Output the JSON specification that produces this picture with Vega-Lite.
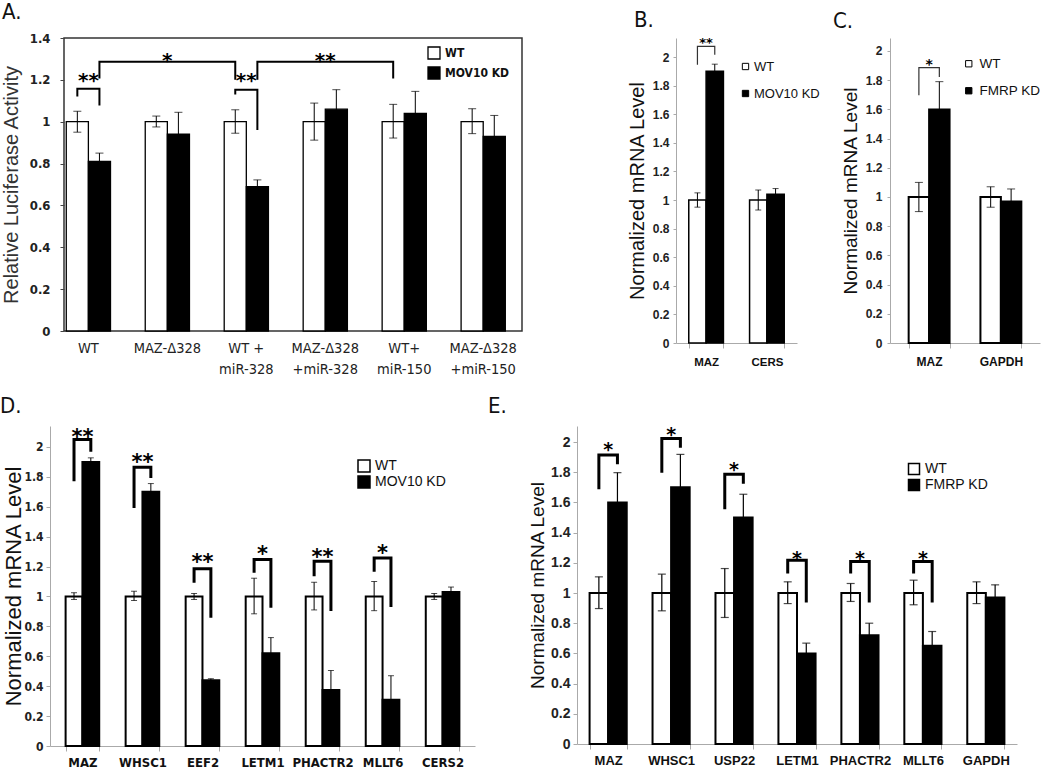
{
"$schema": "https://vega.github.io/schema/vega-lite/v6.json",
"padding": {"left": 0, "top": 0, "right": 0, "bottom": 0},
"background": "white",
"config": {"view": {"stroke": null}, "font": "Liberation Sans", "axis": {"grid": false, "labelAngle": 0, "labelOverlap": false}, "title": {"fontWeight": "normal", "fontSize": 22, "anchor": "start", "frame": "group", "color": "#111", "font": "Liberation Sans Narrow, DejaVu Sans Condensed, Liberation Sans"}},
"datasets": {
"spacer": [],
"a": [
{"category":"WT","group":"WT","value":1.0,"lo":0.95,"hi":1.05},
{"category":"WT","group":"MOV10 KD","value":0.81,"lo":0.77,"hi":0.85},
{"category":"MAZ-Δ328","group":"WT","value":1.0,"lo":0.975,"hi":1.027},
{"category":"MAZ-Δ328","group":"MOV10 KD","value":0.94,"lo":0.835,"hi":1.045},
{"category":"WT +|miR-328","group":"WT","value":1.0,"lo":0.945,"hi":1.057},
{"category":"WT +|miR-328","group":"MOV10 KD","value":0.69,"lo":0.66,"hi":0.722},
{"category":"MAZ-Δ328|+miR-328","group":"WT","value":1.0,"lo":0.912,"hi":1.089},
{"category":"MAZ-Δ328|+miR-328","group":"MOV10 KD","value":1.06,"lo":0.967,"hi":1.153},
{"category":"WT+|miR-150","group":"WT","value":1.0,"lo":0.922,"hi":1.083},
{"category":"WT+|miR-150","group":"MOV10 KD","value":1.04,"lo":0.935,"hi":1.145},
{"category":"MAZ-Δ328|+miR-150","group":"WT","value":1.0,"lo":0.943,"hi":1.062},
{"category":"MAZ-Δ328|+miR-150","group":"MOV10 KD","value":0.93,"lo":0.83,"hi":1.03}
],
"a_br": [
{"id":1,"ord":1,"category":"WT","group":"WT","y":1.121},
{"id":1,"ord":2,"category":"WT","group":"WT","y":1.158},
{"id":1,"ord":3,"category":"WT","group":"MOV10 KD","y":1.158},
{"id":1,"ord":4,"category":"WT","group":"MOV10 KD","y":1.077},
{"id":2,"ord":1,"category":"WT","group":"MOV10 KD","y":1.206},
{"id":2,"ord":2,"category":"WT","group":"MOV10 KD","y":1.287},
{"id":2,"ord":3,"category":"WT +|miR-328","group":"WT","y":1.287},
{"id":2,"ord":4,"category":"WT +|miR-328","group":"WT","y":1.2},
{"id":3,"ord":1,"category":"WT +|miR-328","group":"WT","y":1.13},
{"id":3,"ord":2,"category":"WT +|miR-328","group":"WT","y":1.153},
{"id":3,"ord":3,"category":"WT +|miR-328","group":"MOV10 KD","y":1.153},
{"id":3,"ord":4,"category":"WT +|miR-328","group":"MOV10 KD","y":0.96},
{"id":4,"ord":1,"category":"WT +|miR-328","group":"MOV10 KD","y":1.2},
{"id":4,"ord":2,"category":"WT +|miR-328","group":"MOV10 KD","y":1.287},
{"id":4,"ord":3,"category":"WT+|miR-150","group":"WT","y":1.287},
{"id":4,"ord":4,"category":"WT+|miR-150","group":"WT","y":1.206}
],
"a_st": [
{"category":"WT","y":1.225,"label":"**"},
{"category":"MAZ-Δ328","y":1.32,"label":"*"},
{"category":"WT +|miR-328","y":1.225,"label":"**"},
{"category":"MAZ-Δ328|+miR-328","y":1.32,"label":"**"}
],
"b": [
{"category":"MAZ","group":"WT","value":1.0,"lo":0.95,"hi":1.05},
{"category":"MAZ","group":"MOV10 KD","value":1.9,"lo":1.85,"hi":1.95},
{"category":"CERS","group":"WT","value":1.0,"lo":0.93,"hi":1.07},
{"category":"CERS","group":"MOV10 KD","value":1.04,"lo":1.0,"hi":1.08}
],
"b_br": [
{"id":1,"ord":1,"category":"MAZ","group":"WT","y":1.946},
{"id":1,"ord":2,"category":"MAZ","group":"WT","y":2.075},
{"id":1,"ord":3,"category":"MAZ","group":"MOV10 KD","y":2.075},
{"id":1,"ord":4,"category":"MAZ","group":"MOV10 KD","y":2.016}
],
"b_st": [{"category":"MAZ","y":2.125,"label":"**"}],
"c": [
{"category":"MAZ","group":"WT","value":1.0,"lo":0.9,"hi":1.1},
{"category":"MAZ","group":"FMRP KD","value":1.6,"lo":1.41,"hi":1.79},
{"category":"GAPDH","group":"WT","value":1.0,"lo":0.93,"hi":1.07},
{"category":"GAPDH","group":"FMRP KD","value":0.97,"lo":0.885,"hi":1.055}
],
"c_br": [
{"id":1,"ord":1,"category":"MAZ","group":"WT","y":1.697},
{"id":1,"ord":2,"category":"MAZ","group":"WT","y":1.886},
{"id":1,"ord":3,"category":"MAZ","group":"FMRP KD","y":1.886},
{"id":1,"ord":4,"category":"MAZ","group":"FMRP KD","y":1.822}
],
"c_st": [{"category":"MAZ","y":1.93,"label":"*"}],
"d": [
{"category":"MAZ","group":"WT","value":1.0,"lo":0.98,"hi":1.025},
{"category":"MAZ","group":"MOV10 KD","value":1.9,"lo":1.875,"hi":1.927},
{"category":"WHSC1","group":"WT","value":1.0,"lo":0.973,"hi":1.035},
{"category":"WHSC1","group":"MOV10 KD","value":1.7,"lo":1.645,"hi":1.755},
{"category":"EEF2","group":"WT","value":1.0,"lo":0.98,"hi":1.02},
{"category":"EEF2","group":"MOV10 KD","value":0.44,"lo":0.43,"hi":0.45},
{"category":"LETM1","group":"WT","value":1.0,"lo":0.884,"hi":1.122},
{"category":"LETM1","group":"MOV10 KD","value":0.62,"lo":0.515,"hi":0.725},
{"category":"PHACTR2","group":"WT","value":1.0,"lo":0.91,"hi":1.095},
{"category":"PHACTR2","group":"MOV10 KD","value":0.375,"lo":0.25,"hi":0.505},
{"category":"MLLT6","group":"WT","value":1.0,"lo":0.905,"hi":1.1},
{"category":"MLLT6","group":"MOV10 KD","value":0.31,"lo":0.15,"hi":0.47},
{"category":"CERS2","group":"WT","value":1.0,"lo":0.98,"hi":1.02},
{"category":"CERS2","group":"MOV10 KD","value":1.03,"lo":1.0,"hi":1.063}
],
"d_br": [
{"id":1,"ord":1,"category":"MAZ","group":"WT","y":1.77},
{"id":1,"ord":2,"category":"MAZ","group":"WT","y":2.049},
{"id":1,"ord":3,"category":"MAZ","group":"MOV10 KD","y":2.049},
{"id":1,"ord":4,"category":"MAZ","group":"MOV10 KD","y":1.967},
{"id":2,"ord":1,"category":"WHSC1","group":"WT","y":1.592},
{"id":2,"ord":2,"category":"WHSC1","group":"WT","y":1.864},
{"id":2,"ord":3,"category":"WHSC1","group":"MOV10 KD","y":1.864},
{"id":2,"ord":4,"category":"WHSC1","group":"MOV10 KD","y":1.793},
{"id":3,"ord":1,"category":"EEF2","group":"WT","y":1.091},
{"id":3,"ord":2,"category":"EEF2","group":"WT","y":1.185},
{"id":3,"ord":3,"category":"EEF2","group":"MOV10 KD","y":1.185},
{"id":3,"ord":4,"category":"EEF2","group":"MOV10 KD","y":0.857},
{"id":4,"ord":1,"category":"LETM1","group":"WT","y":1.158},
{"id":4,"ord":2,"category":"LETM1","group":"WT","y":1.247},
{"id":4,"ord":3,"category":"LETM1","group":"MOV10 KD","y":1.247},
{"id":4,"ord":4,"category":"LETM1","group":"MOV10 KD","y":0.924},
{"id":5,"ord":1,"category":"PHACTR2","group":"WT","y":1.136},
{"id":5,"ord":2,"category":"PHACTR2","group":"WT","y":1.236},
{"id":5,"ord":3,"category":"PHACTR2","group":"MOV10 KD","y":1.236},
{"id":5,"ord":4,"category":"PHACTR2","group":"MOV10 KD","y":0.902},
{"id":6,"ord":1,"category":"MLLT6","group":"WT","y":1.165},
{"id":6,"ord":2,"category":"MLLT6","group":"WT","y":1.258},
{"id":6,"ord":3,"category":"MLLT6","group":"MOV10 KD","y":1.258},
{"id":6,"ord":4,"category":"MLLT6","group":"MOV10 KD","y":0.929}
],
"d_st": [
{"category":"MAZ","y":2.105,"label":"**"},
{"category":"WHSC1","y":1.938,"label":"**"},
{"category":"EEF2","y":1.27,"label":"**"},
{"category":"LETM1","y":1.325,"label":"*"},
{"category":"PHACTR2","y":1.303,"label":"**"},
{"category":"MLLT6","y":1.332,"label":"*"}
],
"e": [
{"category":"MAZ","group":"WT","value":1.0,"lo":0.897,"hi":1.107},
{"category":"MAZ","group":"FMRP KD","value":1.6,"lo":1.4,"hi":1.797},
{"category":"WHSC1","group":"WT","value":1.0,"lo":0.882,"hi":1.125},
{"category":"WHSC1","group":"FMRP KD","value":1.7,"lo":1.49,"hi":1.918},
{"category":"USP22","group":"WT","value":1.0,"lo":0.838,"hi":1.162},
{"category":"USP22","group":"FMRP KD","value":1.5,"lo":1.345,"hi":1.654},
{"category":"LETM1","group":"WT","value":1.0,"lo":0.93,"hi":1.074},
{"category":"LETM1","group":"FMRP KD","value":0.6,"lo":0.53,"hi":0.668},
{"category":"PHACTR2","group":"WT","value":1.0,"lo":0.944,"hi":1.063},
{"category":"PHACTR2","group":"FMRP KD","value":0.72,"lo":0.64,"hi":0.8},
{"category":"MLLT6","group":"WT","value":1.0,"lo":0.922,"hi":1.085},
{"category":"MLLT6","group":"FMRP KD","value":0.65,"lo":0.55,"hi":0.745},
{"category":"GAPDH","group":"WT","value":1.0,"lo":0.93,"hi":1.074},
{"category":"GAPDH","group":"FMRP KD","value":0.97,"lo":0.89,"hi":1.054}
],
"e_br": [
{"id":1,"ord":1,"category":"MAZ","group":"WT","y":1.687},
{"id":1,"ord":2,"category":"MAZ","group":"WT","y":1.914},
{"id":1,"ord":3,"category":"MAZ","group":"FMRP KD","y":1.914},
{"id":1,"ord":4,"category":"MAZ","group":"FMRP KD","y":1.852},
{"id":2,"ord":1,"category":"WHSC1","group":"WT","y":1.797},
{"id":2,"ord":2,"category":"WHSC1","group":"WT","y":2.024},
{"id":2,"ord":3,"category":"WHSC1","group":"FMRP KD","y":2.024},
{"id":2,"ord":4,"category":"WHSC1","group":"FMRP KD","y":1.962},
{"id":3,"ord":1,"category":"USP22","group":"WT","y":1.555},
{"id":3,"ord":2,"category":"USP22","group":"WT","y":1.786},
{"id":3,"ord":3,"category":"USP22","group":"FMRP KD","y":1.786},
{"id":3,"ord":4,"category":"USP22","group":"FMRP KD","y":1.724},
{"id":4,"ord":1,"category":"LETM1","group":"WT","y":1.129},
{"id":4,"ord":2,"category":"LETM1","group":"WT","y":1.217},
{"id":4,"ord":3,"category":"LETM1","group":"FMRP KD","y":1.217},
{"id":4,"ord":4,"category":"LETM1","group":"FMRP KD","y":0.937},
{"id":5,"ord":1,"category":"PHACTR2","group":"WT","y":1.129},
{"id":5,"ord":2,"category":"PHACTR2","group":"WT","y":1.208},
{"id":5,"ord":3,"category":"PHACTR2","group":"FMRP KD","y":1.208},
{"id":5,"ord":4,"category":"PHACTR2","group":"FMRP KD","y":0.937},
{"id":6,"ord":1,"category":"MLLT6","group":"WT","y":1.129},
{"id":6,"ord":2,"category":"MLLT6","group":"WT","y":1.208},
{"id":6,"ord":3,"category":"MLLT6","group":"FMRP KD","y":1.208},
{"id":6,"ord":4,"category":"MLLT6","group":"FMRP KD","y":0.937}
],
"e_st": [
{"category":"MAZ","y":1.985,"label":"*"},
{"category":"WHSC1","y":2.084,"label":"*"},
{"category":"USP22","y":1.852,"label":"*"},
{"category":"LETM1","y":1.268,"label":"*"},
{"category":"PHACTR2","y":1.268,"label":"*"},
{"category":"MLLT6","y":1.268,"label":"*"}
]
},
"spacing": 18,
"resolve": {"scale": {"x": "independent", "y": "independent", "xOffset": "independent", "fill": "independent"}, "legend": {"fill": "independent"}, "axis": {"x": "independent", "y": "independent"}},
"vconcat": [
{
"spacing": -51,
"resolve": {"scale": {"x": "independent", "y": "independent", "xOffset": "independent", "fill": "independent"}, "legend": {"fill": "independent"}},
"hconcat": [
{"width": 1, "height": 1, "data": {"name": "spacer"}, "mark": "point"},
{
"spacing": 104,
"resolve": {"scale": {"x": "independent", "y": "independent", "xOffset": "independent", "fill": "independent"}, "legend": {"fill": "independent"}},
"hconcat": [
{
"width": 458, "height": 293,
"title": {"text": "A.", "dx": -62, "offset": 8},
"view": {"stroke": "#333", "strokeWidth": 1.5},
"layer": [
{"data": {"name": "a"}, "mark": {"type": "bar", "stroke": "black", "strokeWidth": 1.3},
 "encoding": {
  "x": {"field": "category", "type": "nominal", "title": null, "scale": {"domain": ["WT","MAZ-Δ328","WT +|miR-328","MAZ-Δ328|+miR-328","WT+|miR-150","MAZ-Δ328|+miR-150"], "paddingInner": 0.44, "paddingOuter": 0.12, "align": 0.12},
    "axis": {"labelExpr": "split(datum.label, '|')", "labelFont": "Liberation Sans Narrow, DejaVu Sans Condensed, Liberation Sans", "labelFontSize": 14.5, "labelColor": "#222", "labelPadding": 10, "labelLineHeight": 21, "ticks": false, "domain": false, "labelOverlap": false}},
  "xOffset": {"field": "group", "type": "nominal", "scale": {"domain": ["WT","MOV10 KD"]}},
  "y": {"field": "value", "type": "quantitative", "title": "Relative Luciferase Activity", "scale": {"domain": [0, 1.4], "nice": false},
    "axis": {"values": [0,0.2,0.4,0.6,0.8,1,1.2,1.4], "tickCount": 12, "format": "~g", "labelOverlap": false, "labelFont": "Liberation Sans Narrow, DejaVu Sans Condensed, Liberation Sans", "labelFontSize": 13, "labelFontWeight": "bold", "labelColor": "#222", "domain": false, "tickSize": 4, "tickColor": "#444", "labelPadding": 10, "titleFontSize": 20, "titleFontWeight": "normal", "titleColor": "#333", "titlePadding": 8}},
  "fill": {"field": "group", "type": "nominal", "title": null, "scale": {"domain": ["WT","MOV10 KD"], "range": ["white","black"]},
    "legend": {"orient": "none", "legendX": 363, "legendY": 8, "symbolType": "square", "symbolSize": 144, "symbolStrokeColor": "black", "symbolStrokeWidth": 1.3, "labelFont": "Liberation Sans Narrow, DejaVu Sans Condensed, Liberation Sans", "labelFontSize": 12, "labelFontWeight": "bold", "labelColor": "#111", "rowPadding": 2}}
 }},
{"data": {"name": "a"}, "mark": {"type": "rule", "color": "black", "strokeWidth": 1},
 "encoding": {"x": {"field": "category", "type": "nominal"}, "xOffset": {"field": "group", "type": "nominal"}, "y": {"field": "lo", "type": "quantitative"}, "y2": {"field": "hi"}}},
{"data": {"name": "a"}, "mark": {"type": "tick", "color": "black", "size": 8, "thickness": 1},
 "encoding": {"x": {"field": "category", "type": "nominal"}, "xOffset": {"field": "group", "type": "nominal"}, "y": {"field": "hi", "type": "quantitative"}}},
{"data": {"name": "a"}, "mark": {"type": "tick", "color": "black", "size": 8, "thickness": 1},
 "encoding": {"x": {"field": "category", "type": "nominal"}, "xOffset": {"field": "group", "type": "nominal"}, "y": {"field": "lo", "type": "quantitative"}}},
{"data": {"name": "a_br"}, "mark": {"type": "line", "color": "black", "strokeWidth": 2, "strokeJoin": "miter"},
 "encoding": {"x": {"field": "category", "type": "nominal"}, "xOffset": {"field": "group", "type": "nominal"}, "y": {"field": "y", "type": "quantitative"}, "detail": {"field": "id"}, "order": {"field": "ord"}}},
{"data": {"name": "a_st"}, "mark": {"type": "text", "font": "DejaVu Sans", "fontWeight": "bold", "fontSize": 20, "baseline": "middle", "dy": 6, "color": "black"},
 "encoding": {"x": {"field": "category", "type": "nominal"}, "y": {"field": "y", "type": "quantitative"}, "text": {"field": "label"}}}
]
},
{
"spacing": 13,
"resolve": {"scale": {"x": "independent", "y": "independent", "xOffset": "independent", "fill": "independent"}, "legend": {"fill": "independent"}},
"hconcat": [
{
"width": 121, "height": 305,
"title": {"text": "B.", "dx": -42, "offset": 5},
"layer": [
{"data": {"name": "b"}, "mark": {"type": "bar", "stroke": "black", "strokeWidth": 1.5},
 "encoding": {
  "x": {"field": "category", "type": "nominal", "title": null, "scale": {"domain": ["MAZ","CERS"], "paddingInner": 0.43, "paddingOuter": 0.21},
    "axis": {"labelFontSize": 11.5, "labelFontWeight": "bold", "labelColor": "#111", "domainColor": "#aaa", "tickColor": "#aaa", "tickSize": 5, "tickBand": "extent", "labelPadding": 8}},
  "xOffset": {"field": "group", "type": "nominal", "scale": {"domain": ["WT","MOV10 KD"]}},
  "y": {"field": "value", "type": "quantitative", "title": "Normalized mRNA Level", "scale": {"domain": [0, 2.133], "nice": false},
    "axis": {"values": [0,0.2,0.4,0.6,0.8,1,1.2,1.4,1.6,1.8,2], "tickCount": 12, "format": "~g", "labelOverlap": false, "labelFontSize": 12, "labelFontWeight": "bold", "labelColor": "#222", "domainColor": "#aaa", "tickColor": "#aaa", "tickSize": 3, "labelPadding": 4, "titleFontSize": 20, "titleFontWeight": "normal", "titleColor": "#111", "titlePadding": 5}},
  "fill": {"field": "group", "type": "nominal", "title": null, "scale": {"domain": ["WT","MOV10 KD"], "range": ["white","black"]},
    "legend": {"orient": "none", "legendX": 63, "legendY": 22, "symbolType": "square", "symbolSize": 40, "symbolStrokeColor": "black", "symbolStrokeWidth": 1, "labelOffset": 2, "labelFontSize": 13, "labelColor": "#111", "rowPadding": 13}}
 }},
{"data": {"name": "b"}, "mark": {"type": "rule", "color": "black", "strokeWidth": 1},
 "encoding": {"x": {"field": "category", "type": "nominal"}, "xOffset": {"field": "group", "type": "nominal"}, "y": {"field": "lo", "type": "quantitative"}, "y2": {"field": "hi"}}},
{"data": {"name": "b"}, "mark": {"type": "tick", "color": "black", "size": 6, "thickness": 1},
 "encoding": {"x": {"field": "category", "type": "nominal"}, "xOffset": {"field": "group", "type": "nominal"}, "y": {"field": "hi", "type": "quantitative"}}},
{"data": {"name": "b"}, "mark": {"type": "tick", "color": "black", "size": 6, "thickness": 1},
 "encoding": {"x": {"field": "category", "type": "nominal"}, "xOffset": {"field": "group", "type": "nominal"}, "y": {"field": "lo", "type": "quantitative"}}},
{"data": {"name": "b_br"}, "mark": {"type": "line", "color": "#333", "strokeWidth": 1.2},
 "encoding": {"x": {"field": "category", "type": "nominal"}, "xOffset": {"field": "group", "type": "nominal"}, "y": {"field": "y", "type": "quantitative"}, "detail": {"field": "id"}, "order": {"field": "ord"}}},
{"data": {"name": "b_st"}, "mark": {"type": "text", "font": "DejaVu Sans", "fontWeight": "bold", "fontSize": 13, "baseline": "middle", "dy": 4, "color": "black"},
 "encoding": {"x": {"field": "category", "type": "nominal"}, "y": {"field": "y", "type": "quantitative"}, "text": {"field": "label"}}}
]
},
{
"width": 150, "height": 305,
"title": {"text": "C.", "dx": -57, "offset": 5},
"layer": [
{"data": {"name": "c"}, "mark": {"type": "bar", "stroke": "black", "strokeWidth": 2},
 "encoding": {
  "x": {"field": "category", "type": "nominal", "title": null, "scale": {"domain": ["MAZ","GAPDH"], "paddingInner": 0.43, "paddingOuter": 0.26},
    "axis": {"labelFontSize": 12, "labelFontWeight": "bold", "labelColor": "#111", "domainColor": "#aaa", "tickColor": "#aaa", "tickSize": 5, "tickBand": "extent", "labelPadding": 8}},
  "xOffset": {"field": "group", "type": "nominal", "scale": {"domain": ["WT","FMRP KD"]}},
  "y": {"field": "value", "type": "quantitative", "title": "Normalized mRNA Level", "scale": {"domain": [0, 2.089], "nice": false},
    "axis": {"values": [0,0.2,0.4,0.6,0.8,1,1.2,1.4,1.6,1.8,2], "tickCount": 12, "format": "~g", "labelOverlap": false, "labelFontSize": 12, "labelFontWeight": "bold", "labelColor": "#222", "domainColor": "#aaa", "tickColor": "#aaa", "tickSize": 3, "labelPadding": 5, "titleFontSize": 19, "titleFontWeight": "normal", "titleColor": "#111", "titlePadding": 5}},
  "fill": {"field": "group", "type": "nominal", "title": null, "scale": {"domain": ["WT","FMRP KD"], "range": ["white","black"]},
    "legend": {"orient": "none", "legendX": 72, "legendY": 19, "symbolType": "square", "symbolSize": 40, "symbolStrokeColor": "black", "symbolStrokeWidth": 1, "labelFontSize": 13.5, "labelColor": "#111", "rowPadding": 12}}
 }},
{"data": {"name": "c"}, "mark": {"type": "rule", "color": "black", "strokeWidth": 1},
 "encoding": {"x": {"field": "category", "type": "nominal"}, "xOffset": {"field": "group", "type": "nominal"}, "y": {"field": "lo", "type": "quantitative"}, "y2": {"field": "hi"}}},
{"data": {"name": "c"}, "mark": {"type": "tick", "color": "black", "size": 8, "thickness": 1},
 "encoding": {"x": {"field": "category", "type": "nominal"}, "xOffset": {"field": "group", "type": "nominal"}, "y": {"field": "hi", "type": "quantitative"}}},
{"data": {"name": "c"}, "mark": {"type": "tick", "color": "black", "size": 8, "thickness": 1},
 "encoding": {"x": {"field": "category", "type": "nominal"}, "xOffset": {"field": "group", "type": "nominal"}, "y": {"field": "lo", "type": "quantitative"}}},
{"data": {"name": "c_br"}, "mark": {"type": "line", "color": "#333", "strokeWidth": 1.2},
 "encoding": {"x": {"field": "category", "type": "nominal"}, "xOffset": {"field": "group", "type": "nominal"}, "y": {"field": "y", "type": "quantitative"}, "detail": {"field": "id"}, "order": {"field": "ord"}}},
{"data": {"name": "c_st"}, "mark": {"type": "text", "font": "DejaVu Sans", "fontWeight": "bold", "fontSize": 14, "baseline": "middle", "dy": 4, "color": "black"},
 "encoding": {"x": {"field": "category", "type": "nominal"}, "y": {"field": "y", "type": "quantitative"}, "text": {"field": "label"}}}
]
}
]
}
]
}
]
},
{
"spacing": 13,
"resolve": {"scale": {"x": "independent", "y": "independent", "xOffset": "independent", "fill": "independent"}, "legend": {"fill": "independent"}},
"hconcat": [
{
"width": 425, "height": 320,
"title": {"text": "D.", "dx": -50, "offset": 8},
"layer": [
{"data": {"name": "d"}, "mark": {"type": "bar", "stroke": "black", "strokeWidth": 2},
 "encoding": {
  "x": {"field": "category", "type": "nominal", "title": null, "scale": {"domain": ["MAZ","WHSC1","EEF2","LETM1","PHACTR2","MLLT6","CERS2"], "paddingInner": 0.44, "paddingOuter": 0.26},
    "axis": {"labelFont": "Liberation Sans Narrow, DejaVu Sans Condensed, Liberation Sans", "labelFontSize": 13, "labelFontWeight": "bold", "labelColor": "#111", "domainColor": "#aaa", "tickColor": "#aaa", "tickSize": 5, "tickBand": "extent", "labelPadding": 5}},
  "xOffset": {"field": "group", "type": "nominal", "scale": {"domain": ["WT","MOV10 KD"]}},
  "y": {"field": "value", "type": "quantitative", "title": "Normalized mRNA Level", "scale": {"domain": [0, 2.14], "nice": false},
    "axis": {"values": [0,0.2,0.4,0.6,0.8,1,1.2,1.4,1.6,1.8,2], "tickCount": 12, "format": "~g", "labelOverlap": false, "labelFont": "Liberation Sans Narrow, DejaVu Sans Condensed, Liberation Sans", "labelFontSize": 12, "labelFontWeight": "bold", "labelColor": "#222", "domainColor": "#aaa", "tickColor": "#aaa", "tickSize": 4, "labelPadding": 3, "titleFontSize": 22, "titleFontWeight": "normal", "titleColor": "#111", "titlePadding": -2}},
  "fill": {"field": "group", "type": "nominal", "title": null, "scale": {"domain": ["WT","MOV10 KD"], "range": ["white","black"]},
    "legend": {"orient": "none", "legendX": 307, "legendY": 33, "symbolType": "square", "symbolSize": 144, "symbolStrokeColor": "black", "symbolStrokeWidth": 1.5, "labelFontSize": 14, "labelColor": "#111", "rowPadding": -4}}
 }},
{"data": {"name": "d"}, "mark": {"type": "rule", "color": "black", "strokeWidth": 1},
 "encoding": {"x": {"field": "category", "type": "nominal"}, "xOffset": {"field": "group", "type": "nominal"}, "y": {"field": "lo", "type": "quantitative"}, "y2": {"field": "hi"}}},
{"data": {"name": "d"}, "mark": {"type": "tick", "color": "black", "size": 6, "thickness": 1},
 "encoding": {"x": {"field": "category", "type": "nominal"}, "xOffset": {"field": "group", "type": "nominal"}, "y": {"field": "hi", "type": "quantitative"}}},
{"data": {"name": "d"}, "mark": {"type": "tick", "color": "black", "size": 6, "thickness": 1},
 "encoding": {"x": {"field": "category", "type": "nominal"}, "xOffset": {"field": "group", "type": "nominal"}, "y": {"field": "lo", "type": "quantitative"}}},
{"data": {"name": "d_br"}, "mark": {"type": "line", "color": "black", "strokeWidth": 3, "strokeJoin": "miter"},
 "encoding": {"x": {"field": "category", "type": "nominal"}, "xOffset": {"field": "group", "type": "nominal"}, "y": {"field": "y", "type": "quantitative"}, "detail": {"field": "id"}, "order": {"field": "ord"}}},
{"data": {"name": "d_st"}, "mark": {"type": "text", "font": "DejaVu Sans", "fontWeight": "bold", "fontSize": 21, "baseline": "middle", "dy": 7, "color": "black"},
 "encoding": {"x": {"field": "category", "type": "nominal"}, "y": {"field": "y", "type": "quantitative"}, "text": {"field": "label"}}}
]
},
{
"width": 440, "height": 318,
"title": {"text": "E.", "dx": -89, "offset": 8},
"layer": [
{"data": {"name": "e"}, "mark": {"type": "bar", "stroke": "black", "strokeWidth": 2},
 "encoding": {
  "x": {"field": "category", "type": "nominal", "title": null, "scale": {"domain": ["MAZ","WHSC1","USP22","LETM1","PHACTR2","MLLT6","GAPDH"], "paddingInner": 0.41, "paddingOuter": 0.2},
    "axis": {"labelFontSize": 13, "labelFontWeight": "bold", "labelColor": "#111", "domainColor": "#aaa", "tickColor": "#aaa", "tickSize": 5, "tickBand": "extent", "labelPadding": 5}},
  "xOffset": {"field": "group", "type": "nominal", "scale": {"domain": ["WT","FMRP KD"]}},
  "y": {"field": "value", "type": "quantitative", "title": "Normalized mRNA Level", "scale": {"domain": [0, 2.106], "nice": false},
    "axis": {"values": [0,0.2,0.4,0.6,0.8,1,1.2,1.4,1.6,1.8,2], "tickCount": 12, "format": "~g", "labelOverlap": false, "labelFontSize": 14, "labelFontWeight": "bold", "labelColor": "#222", "domainColor": "#aaa", "tickColor": "#aaa", "tickSize": 4, "labelPadding": 3, "titleFontSize": 19, "titleFontWeight": "normal", "titleColor": "#111", "titlePadding": 3}},
  "fill": {"field": "group", "type": "nominal", "title": null, "scale": {"domain": ["WT","FMRP KD"], "range": ["white","black"]},
    "legend": {"orient": "none", "legendX": 330, "legendY": 36, "symbolType": "square", "symbolSize": 121, "symbolStrokeColor": "black", "symbolStrokeWidth": 1.5, "labelFontSize": 14, "labelColor": "#111", "rowPadding": -7}}
 }},
{"data": {"name": "e"}, "mark": {"type": "rule", "color": "black", "strokeWidth": 1.2},
 "encoding": {"x": {"field": "category", "type": "nominal"}, "xOffset": {"field": "group", "type": "nominal"}, "y": {"field": "lo", "type": "quantitative"}, "y2": {"field": "hi"}}},
{"data": {"name": "e"}, "mark": {"type": "tick", "color": "black", "size": 8, "thickness": 1.2},
 "encoding": {"x": {"field": "category", "type": "nominal"}, "xOffset": {"field": "group", "type": "nominal"}, "y": {"field": "hi", "type": "quantitative"}}},
{"data": {"name": "e"}, "mark": {"type": "tick", "color": "black", "size": 8, "thickness": 1.2},
 "encoding": {"x": {"field": "category", "type": "nominal"}, "xOffset": {"field": "group", "type": "nominal"}, "y": {"field": "lo", "type": "quantitative"}}},
{"data": {"name": "e_br"}, "mark": {"type": "line", "color": "black", "strokeWidth": 3, "strokeJoin": "miter"},
 "encoding": {"x": {"field": "category", "type": "nominal"}, "xOffset": {"field": "group", "type": "nominal"}, "y": {"field": "y", "type": "quantitative"}, "detail": {"field": "id"}, "order": {"field": "ord"}}},
{"data": {"name": "e_st"}, "mark": {"type": "text", "font": "DejaVu Sans", "fontWeight": "bold", "fontSize": 19, "baseline": "middle", "dy": 6, "color": "black"},
 "encoding": {"x": {"field": "category", "type": "nominal"}, "y": {"field": "y", "type": "quantitative"}, "text": {"field": "label"}}}
]
}
]
}
]
}
